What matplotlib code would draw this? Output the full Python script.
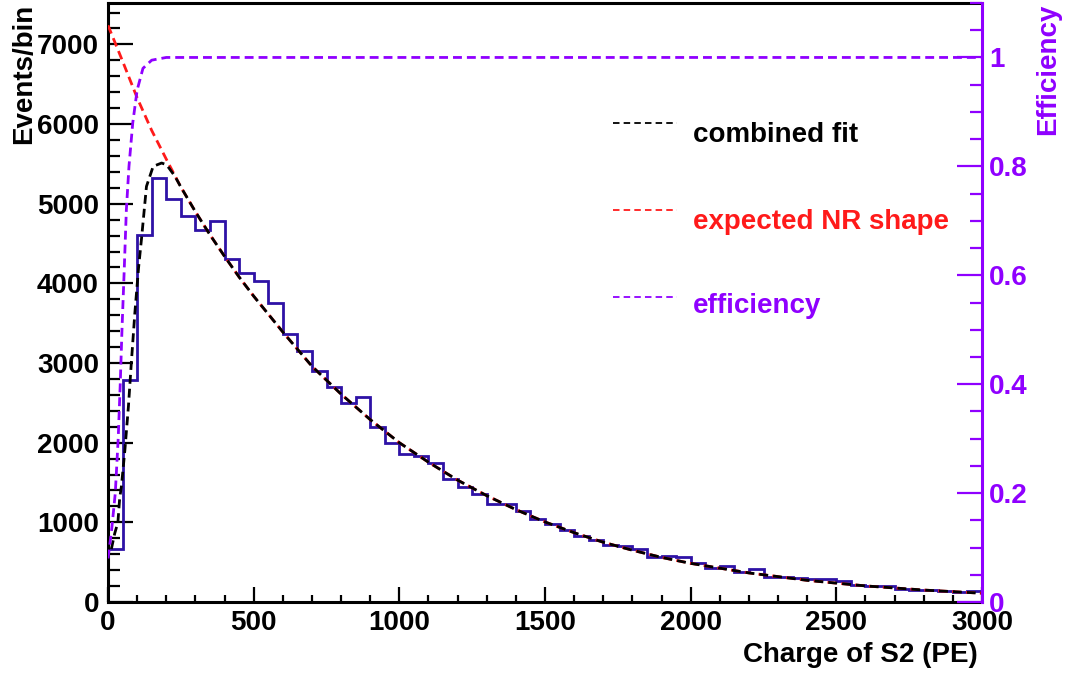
import numpy as np
import matplotlib
matplotlib.use("Agg")
import matplotlib.pyplot as plt
from matplotlib.lines import Line2D
from matplotlib.ticker import MultipleLocator, FuncFormatter

# ---------------- data ----------------
bin_start = 0
bin_width = 50
counts = [662, 2789, 4610, 5323, 5059, 4840, 4665, 4778, 4309, 4129,
          4033, 3760, 3363, 3145, 2894, 2697, 2496, 2575, 2200, 1994,
          1855, 1830, 1742, 1540, 1450, 1350, 1235, 1235, 1140, 1045,
          975, 900, 825, 775, 712, 705, 662, 570, 580, 570,
          494, 428, 450, 373, 415, 315, 312, 305, 293, 285,
          262, 215, 205, 195, 165, 155, 145, 135, 122, 135]

nr_x = [0, 50, 100, 150, 200, 250, 300, 350, 400, 450, 500, 600, 700, 800,
        900, 1000, 1100, 1200, 1300, 1400, 1500, 1600, 1700, 1800, 1900,
        2000, 2200, 2400, 2600, 2800, 3000]
nr_y = [7240, 6790, 6330, 5920, 5560, 5210, 4900, 4610, 4340, 4080, 3840,
        3390, 2960, 2610, 2290, 2000, 1755, 1530, 1335, 1160, 1005, 870,
        750, 650, 560, 485, 365, 272, 202, 150, 110]

fit_x = [0, 10, 23, 34, 40, 46, 58, 70, 80, 92, 105, 115, 132, 155, 184,
         201, 230, 250, 300, 350, 400, 450, 500, 600, 700, 800, 900, 1000,
         1100, 1200, 1300, 1400, 1500, 1600, 1700, 1800, 1900, 2000, 2200,
         2400, 2600, 2800, 3000]
fit_y = [590, 640, 860, 1000, 1300, 1450, 1910, 2450, 2999, 3620, 4200,
         4560, 5217, 5469, 5511, 5490, 5343, 5210, 4900, 4610, 4340, 4080,
         3840, 3390, 2960, 2610, 2290, 2000, 1755, 1530, 1335, 1160, 1005,
         870, 750, 650, 560, 485, 365, 272, 202, 150, 110]

eff_x = [0, 12, 25, 35, 42, 48, 55, 63, 72, 85, 100, 120, 150, 200, 3000]
eff_y = [0.08, 0.13, 0.20, 0.30, 0.40, 0.50, 0.60, 0.72, 0.80, 0.88, 0.94,
         0.98, 0.995, 1.0, 1.0]

legend_labels = ["combined fit", "expected NR shape", "efficiency"]

# ---------------- style ----------------
plt.rcParams['font.family'] = ['Liberation Sans', 'DejaVu Sans']
plt.rcParams['font.weight'] = 'bold'
FS = 20
HIST_C = '#2e12a6'
PURPLE = '#8f00ff'
RED = '#ff1a1a'

W, H = 1070, 675
fig = plt.figure(figsize=(W / 100, H / 100), dpi=100)
ax = fig.add_axes([108 / W, 1 - 602 / H, 874 / W, 599 / H])
ax2 = ax.twinx()

edges = bin_start + bin_width * np.arange(len(counts) + 1)
ax.stairs(counts, edges, color=HIST_C, lw=2.0, baseline=0, zorder=2)

dash = (0, (3.2, 1.8))
ax.plot(nr_x, nr_y, color=RED, lw=2.0, ls=dash, zorder=3)
ax.plot(fit_x, fit_y, color='black', lw=2.0, ls=(2.5, (3.2, 1.8)), zorder=4)
ax2.plot(eff_x, eff_y, color=PURPLE, lw=2.0, ls=dash, zorder=3)

ax.set_xlim(0, 3000)
ax.set_ylim(0, 7520)
ax2.set_ylim(0, 1.1)

ax.xaxis.set_major_locator(MultipleLocator(500))
ax.xaxis.set_minor_locator(MultipleLocator(100))
ax.yaxis.set_major_locator(MultipleLocator(1000))
ax.yaxis.set_minor_locator(MultipleLocator(200))
ax2.yaxis.set_major_locator(MultipleLocator(0.2))
ax2.yaxis.set_minor_locator(MultipleLocator(0.05))
ax2.yaxis.set_major_formatter(FuncFormatter(lambda v, p: f"{v:g}"))

ax.tick_params(axis='y', which='major', direction='in', length=18, width=1.6,
               left=True, right=False, pad=6.5, labelsize=FS)
ax.tick_params(axis='y', which='minor', direction='in', length=8.5, width=1.6,
               left=True, right=False)
ax.tick_params(axis='x', which='major', direction='in', length=10.8, width=1.6,
               top=False, pad=6, labelsize=FS)
ax.tick_params(axis='x', which='minor', direction='in', length=5, width=1.6,
               top=False)
ax2.tick_params(axis='y', which='major', direction='in', length=18, width=1.6,
                color=PURPLE, labelcolor=PURPLE, pad=5, labelsize=FS)
ax2.tick_params(axis='y', which='minor', direction='in', length=8.6, width=1.6,
                color=PURPLE)

for s in ['left', 'bottom', 'top']:
    ax.spines[s].set_linewidth(2.2)
    ax.spines[s].set_color('black')
ax.spines['right'].set_visible(False)
for s in ['left', 'bottom', 'top']:
    ax2.spines[s].set_visible(False)
ax2.spines['right'].set_color(PURPLE)
ax2.spines['right'].set_linewidth(2.2)

# axis titles
fig.text(24 / W, 1 - 4 / H, 'Events/bin', rotation=90, ha='center', va='top',
         fontsize=FS, fontweight='bold')
fig.text(1048 / W, 1 - 4 / H, 'Efficiency', rotation=90, ha='center', va='top',
         fontsize=FS, fontweight='bold', color=PURPLE)
fig.text(978 / W, 1 - 662 / H, 'Charge of S2 (PE)', ha='right', va='baseline',
         fontsize=FS, fontweight='bold')

# legend
leg_colors = ['black', RED, PURPLE]
leg_line_y = [123, 210, 297]
leg_text_y = [142, 229, 313]
for lab, c, ly, ty in zip(legend_labels, leg_colors, leg_line_y, leg_text_y):
    fig.add_artist(Line2D([613 / W, 677 / W], [1 - ly / H, 1 - ly / H], color=c,
                          lw=1.3, ls=(0, (3.6, 2.3))))
    fig.text(693 / W, 1 - ty / H, lab, ha='left', va='baseline', fontsize=FS,
             fontweight='bold', color=c)

fig.savefig('out.png', dpi=100)
